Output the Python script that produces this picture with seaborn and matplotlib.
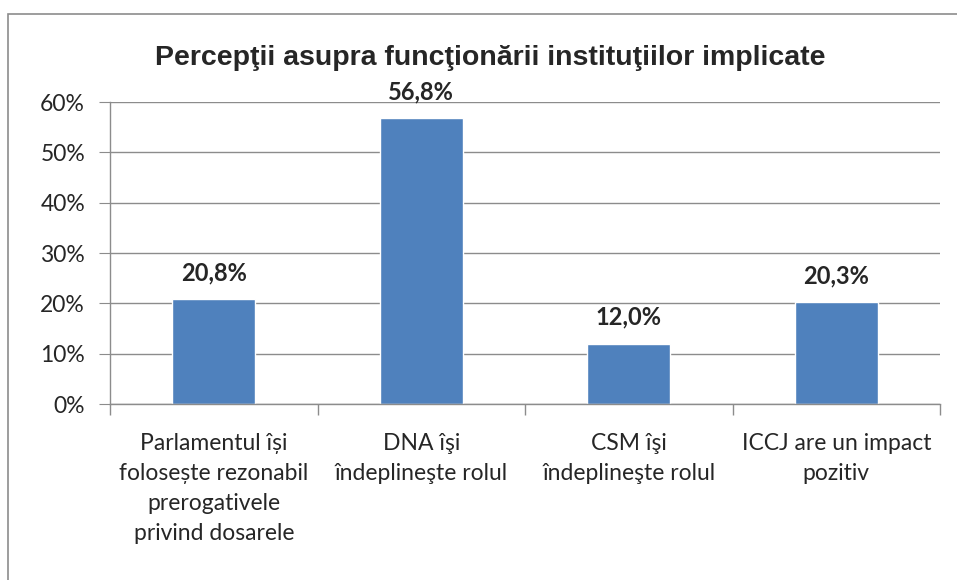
import pandas as pd
import seaborn as sns
import matplotlib.pyplot as plt
from matplotlib.patches import Rectangle
from matplotlib.ticker import FixedLocator, PercentFormatter

# Chart data
categories = [
    "Parlamentul își\nfolosește rezonabil\nprerogativele\nprivind dosarele",
    "DNA îşi\nîndeplineşte rolul",
    "CSM îşi\nîndeplineşte rolul",
    "ICCJ are un impact\npozitiv",
]
values = [20.8, 56.8, 12.0, 20.3]
title = "Percepţii asupra funcţionării instituţiilor implicate"

df = pd.DataFrame({"categorie": categories, "procent": values})

sns.set_style("white")
plt.rcParams["font.family"] = ["Lato", "DejaVu Sans"]

fig = plt.figure(figsize=(9.57, 5.8), dpi=100)
fig.patches.append(Rectangle((8 / 957, -0.1), 1.2, (580 - 14) / 580 + 0.1,
                             transform=fig.transFigure, fill=False,
                             edgecolor="#8c8c8c", linewidth=1.2))
ax = fig.add_axes([0.115, 0.3034, 0.8673, 0.5207])

sns.barplot(data=df, x="categorie", y="procent", color="#4F81BD",
            width=0.4, saturation=1, ax=ax)

ax.set_ylim(0, 60)
ax.set_yticks(range(0, 61, 10))
ax.yaxis.set_major_formatter(PercentFormatter(decimals=0))
ax.grid(axis="y", color="#8c8c8c", linewidth=1)
ax.set_axisbelow(True)
ax.set_xlim(-0.5, 3.5)

for s in ["top", "right"]:
    ax.spines[s].set_visible(False)
for s in ["left", "bottom"]:
    ax.spines[s].set_color("#8c8c8c")
    ax.spines[s].set_linewidth(1)

ax.tick_params(axis="y", left=True, length=8, color="#8c8c8c", labelsize=16.5, pad=10)
ax.tick_params(axis="x", which="major", bottom=True, length=0, labelsize=16.5, pad=21)
ax.xaxis.set_minor_locator(FixedLocator([-0.5, 0.5, 1.5, 2.5, 3.5]))
ax.tick_params(axis="x", which="minor", bottom=True, length=8, width=1,
               color="#8c8c8c", direction="out")
for lbl in ax.get_xticklabels():
    lbl.set_linespacing(1.52)

ax.set_xlabel("")
ax.set_ylabel("")

for i, v in enumerate(values):
    ax.annotate(f"{v:.1f}%".replace(".", ","), (i, v), xytext=(0, 19),
                textcoords="offset points", ha="center", va="center",
                fontsize=17, fontweight="bold")

fig.text(0.512, 0.9, title, ha="center", va="center", fontsize=20.5,
         fontweight="bold", family=["Liberation Sans", "DejaVu Sans"])

fig.savefig("out.png", dpi=100)
